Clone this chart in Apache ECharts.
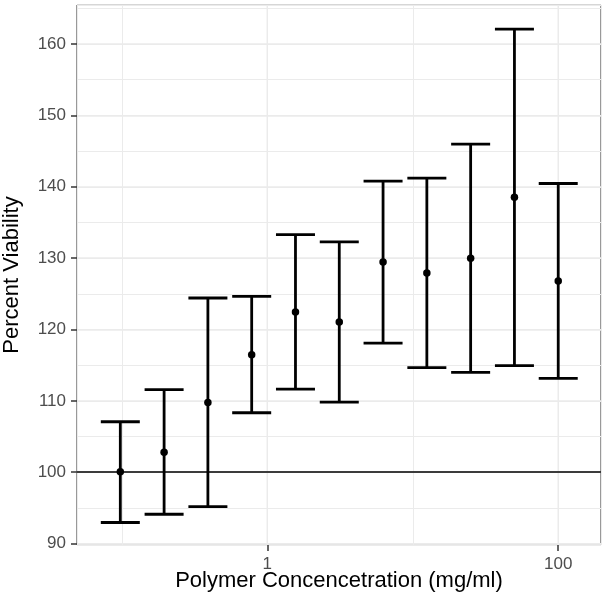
<!DOCTYPE html>
<html>
<head>
<meta charset="utf-8">
<script src="https://cdn.jsdelivr.net/npm/echarts@6/dist/echarts.min.js"></script>
<style>html,body{margin:0;padding:0;background:#fff;}#c{width:606px;height:604px;}</style>
</head>
<body>
<div id="c"></div>
<script>
// Data
var concentrations = [0.09765625, 0.1953125, 0.390625, 0.78125, 1.5625, 3.125, 6.25, 12.5, 25, 50, 100];
var meanViability  = [100.06, 102.81, 109.78, 116.47, 122.45, 121.05, 129.47, 127.92, 129.98, 138.54, 126.80];
var lowerViability = [92.95, 94.11, 95.19, 108.33, 111.65, 109.82, 118.10, 114.65, 113.99, 114.93, 113.15];
var upperViability = [107.07, 111.56, 124.41, 124.65, 133.30, 132.27, 140.79, 141.20, 145.98, 162.10, 140.46];
var xTickLabels = [1, 100];
var yTickLabels = [90, 100, 110, 120, 130, 140, 150, 160];
var referenceLine = 100;

var FONT = '"Liberation Sans", Arial, Helvetica, sans-serif';
var xMin = 0.0492, xMax = 196.8, yMin = 89.8, yMax = 165.47;

var barData = concentrations.map(function (c, i) { return [c, lowerViability[i], upperViability[i]]; });
var pointData = concentrations.map(function (c, i) { return [c, meanViability[i]]; });

function isOneOf(list, v) {
  for (var i = 0; i < list.length; i++) { if (Math.abs(list[i] - v) < 1e-6 * Math.max(1, Math.abs(v))) return true; }
  return false;
}

var hiddenAxis = {show: false, axisLine: {show: false}, axisTick: {show: false}, axisLabel: {show: false}, splitLine: {show: false}};
function hidden(extra) { return Object.assign({}, hiddenAxis, extra); }

var chart = echarts.init(document.getElementById('c'), null, {renderer: 'canvas'});
chart.setOption({
  animation: false,
  grid: [
    {left: 77, top: 5, width: 524, height: 540, show: true, borderColor: '#333333', borderWidth: 1, outerBoundsMode: 'none'},
    // thin strip below the panel for the x tick marks
    {left: 77, top: 545, width: 524, height: 6, show: false, outerBoundsMode: 'none'},
    // thin strip left of the panel for the y tick marks
    {left: 71, top: 5, width: 6, height: 540, show: false, outerBoundsMode: 'none'}
  ],
  xAxis: [
    {type: 'log', logBase: 10, min: xMin, max: xMax, position: 'bottom', gridIndex: 0,
     axisLine: {show: false}, axisTick: {show: false}, axisLabel: {show: false},
     splitLine: {show: true, lineStyle: {color: '#ebebeb', width: 1}}},
    {type: 'log', logBase: 10, min: xMin, max: xMax, position: 'bottom', gridIndex: 0,
     name: 'Polymer Concencetration (mg/ml)', nameLocation: 'middle', nameGap: 25, nameMoveOverlap: false,
     nameTextStyle: {fontFamily: FONT, fontSize: 22, color: '#000', verticalAlign: 'top'},
     axisLine: {show: false}, axisTick: {show: false},
     axisLabel: {show: true, margin: 11, fontFamily: FONT, fontSize: 17, color: '#4d4d4d',
       formatter: function (v) { return isOneOf(xTickLabels, v) ? String(Math.round(v)) : ''; }},
     splitLine: {show: false}},
    hidden({type: 'log', logBase: 10, min: xMin, max: xMax, gridIndex: 1}),
    hidden({type: 'value', min: 0, max: 1, gridIndex: 2})
  ],
  yAxis: [
    {type: 'value', min: yMin, max: yMax, splitNumber: 15, position: 'left', gridIndex: 0,
     axisLine: {show: false}, axisTick: {show: false}, axisLabel: {show: false},
     splitLine: {show: true, lineStyle: {color: '#ebebeb', width: 1}}},
    {type: 'value', min: yMin, max: yMax, splitNumber: 8, position: 'left', gridIndex: 0,
     name: 'Percent Viability', nameLocation: 'middle', nameGap: 54, nameMoveOverlap: false,
     nameTextStyle: {fontFamily: FONT, fontSize: 22, color: '#000'},
     axisLine: {show: false}, axisTick: {show: false},
     axisLabel: {show: true, margin: 11, fontFamily: FONT, fontSize: 17, color: '#4d4d4d',
       formatter: function (v) { return isOneOf(yTickLabels, v) ? String(Math.round(v)) : ''; }},
     splitLine: {show: true, lineStyle: {color: '#ebebeb', width: 1.5}}},
    hidden({type: 'value', min: 0, max: 1, gridIndex: 1}),
    hidden({type: 'value', min: yMin, max: yMax, gridIndex: 2})
  ],
  series: [
    { // x major grid lines at the labelled breaks
      type: 'custom', xAxisIndex: 1, yAxisIndex: 1, z: 1, silent: true,
      data: xTickLabels.map(function (v) { return [v, yMin]; }),
      renderItem: function (params, api) {
        var pb = api.coord([api.value(0), yMin]), pt = api.coord([api.value(0), yMax]);
        return {type: 'line', shape: {x1: pb[0], y1: pb[1], x2: pt[0], y2: pt[1]}, style: {stroke: '#ebebeb', lineWidth: 1.5}};
      }
    },
    {
      type: 'custom', xAxisIndex: 1, yAxisIndex: 1, z: 3,
      data: barData,
      encode: {x: 0, y: [1, 2]},
      renderItem: function (params, api) {
        var x = api.value(0), lo = api.value(1), hi = api.value(2);
        var pLo = api.coord([x, lo]), pHi = api.coord([x, hi]);
        var hw = 19.5;
        var st = {stroke: '#000', lineWidth: 2.8, fill: null};
        return {type: 'group', children: [
          {type: 'line', shape: {x1: pLo[0], y1: pLo[1], x2: pHi[0], y2: pHi[1]}, style: st},
          {type: 'line', shape: {x1: pLo[0] - hw, y1: pLo[1], x2: pLo[0] + hw, y2: pLo[1]}, style: st},
          {type: 'line', shape: {x1: pHi[0] - hw, y1: pHi[1], x2: pHi[0] + hw, y2: pHi[1]}, style: st}
        ]};
      }
    },
    {
      type: 'scatter', xAxisIndex: 1, yAxisIndex: 1, z: 4,
      data: pointData, symbol: 'circle', symbolSize: 7.5,
      itemStyle: {color: '#000', opacity: 1},
      markLine: {
        silent: true, symbol: ['none', 'none'], label: {show: false},
        lineStyle: {color: '#000', width: 1.7, type: 'solid'},
        data: [{yAxis: referenceLine}]
      }
    },
    { // x tick marks
      type: 'scatter', xAxisIndex: 2, yAxisIndex: 2, data: [], symbolSize: 0, silent: true,
      markLine: {
        silent: true, symbol: ['none', 'none'], label: {show: false}, animation: false,
        lineStyle: {color: '#333333', width: 1.5, type: 'solid'},
        data: xTickLabels.map(function (v) { return {xAxis: v}; })
      }
    },
    { // y tick marks
      type: 'scatter', xAxisIndex: 3, yAxisIndex: 3, data: [], symbolSize: 0, silent: true,
      markLine: {
        silent: true, symbol: ['none', 'none'], label: {show: false}, animation: false,
        lineStyle: {color: '#333333', width: 1.5, type: 'solid'},
        data: yTickLabels.map(function (v) { return {yAxis: v}; })
      }
    }
  ]
});
</script>
</body>
</html>
